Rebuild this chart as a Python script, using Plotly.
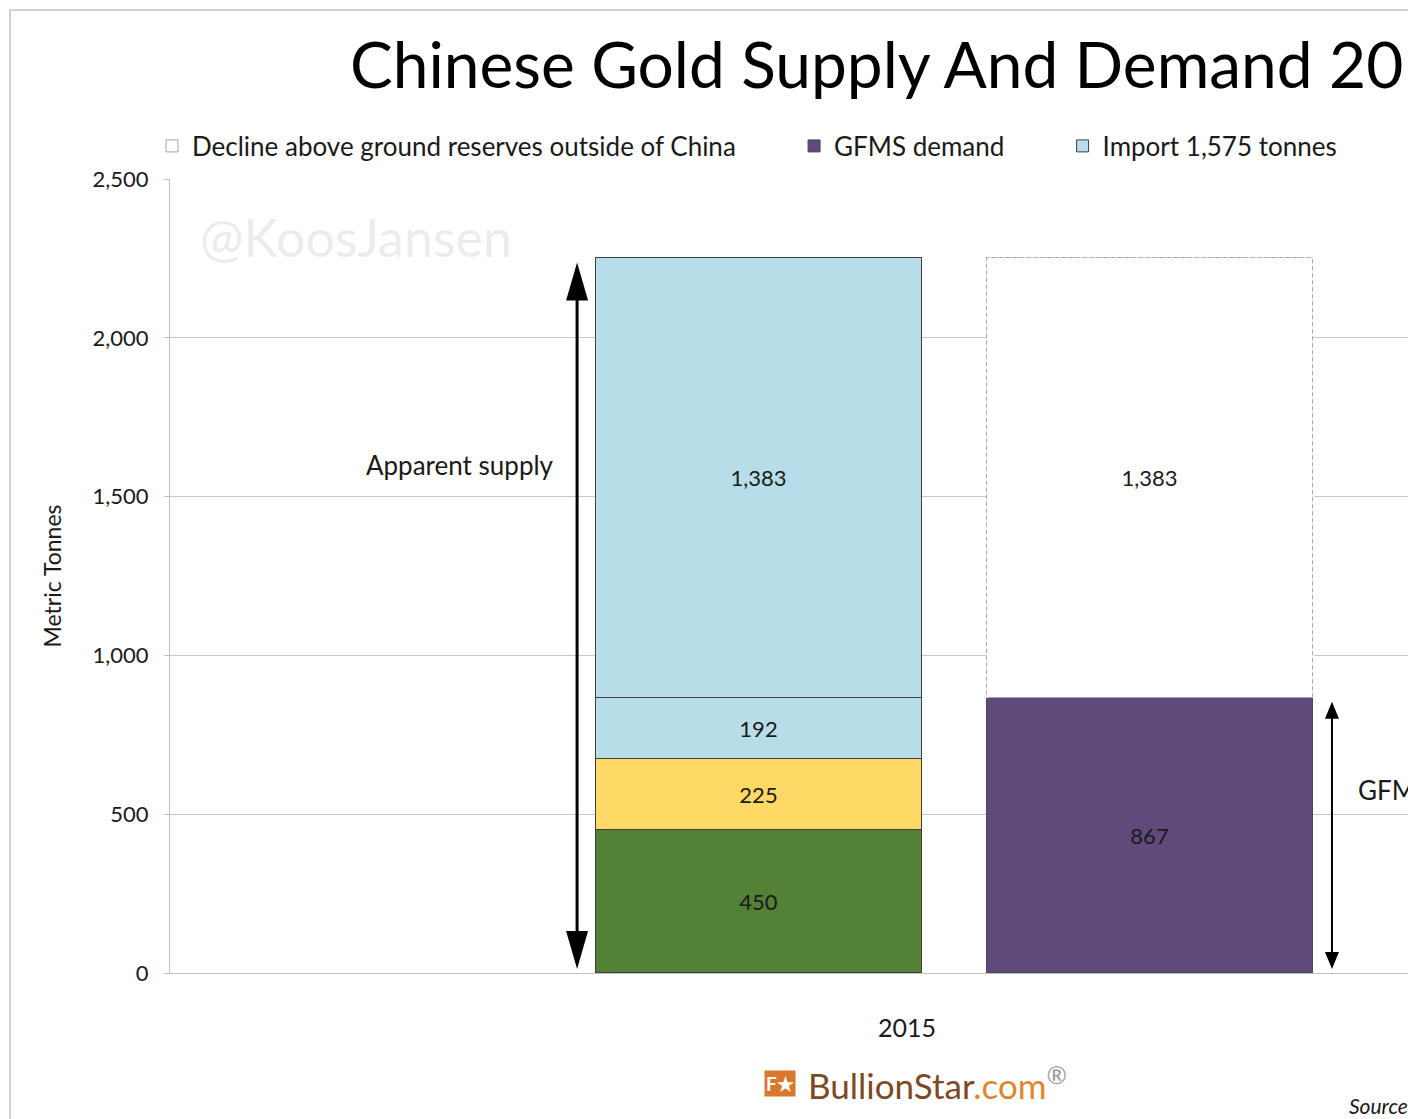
import plotly.graph_objects as go

# ---------------- data ----------------
categories = ["2015"]
mine_production = [450]
scrap = [225]
import_part1 = [192]
import_part2 = [1383]
gfms_demand = [867]
decline_reserves = [1383]
y_ticks = [0, 500, 1000, 1500, 2000, 2500]

# ---------------- layout constants ----------------
W, H = 1408, 1119
ML, MR, MT, MB = 170, 0, 179, 146
PW, PH = W - ML - MR, H - MT - MB
Y_MAX = 2500
X_MIN, X_MAX = 0.0, PW / 326.0
SUPPLY_X, DEMAND_X, CAT_X = 1.807, 3.006, 2.261
BAR_W = 1.0
FONT = "Lato"
UX = (X_MAX - X_MIN) / PW   # data units per px (x)
UY = Y_MAX / PH             # data units per px (y)
PAD = "\u00a0" * 8          # spacing between legend entries

def fmt(v):
    return f"{v:,}"

fig = go.Figure()

label_font = dict(family=FONT, size=22, color="#1a1a1a")
edge = dict(color="#404040", width=1)
supply_segments = [
    ("Mine production 450 tonnes", mine_production, "#538135", False, 4, "mine"),
    ("Scrap 225 tonnes", scrap, "#FFD966", False, 5, "scrap"),
    ("Import 1,575 tonnes", import_part1, "#B7DDE8", True, 3, "import"),
    ("Import 1,575 tonnes", import_part2, "#B7DDE8", False, 3, "import"),
]
for name, vals, col, show, rank, grp in supply_segments:
    fig.add_trace(go.Bar(
        x=[SUPPLY_X], y=vals, width=BAR_W, name=name, legendgroup=grp,
        showlegend=show, legendrank=rank,
        marker=dict(color=col, line=edge),
        text=[fmt(v) for v in vals], textposition="inside", insidetextanchor="middle",
        textangle=0, textfont=label_font, hoverinfo="skip"))

fig.add_trace(go.Bar(
    x=[DEMAND_X], y=gfms_demand, width=BAR_W, name="GFMS demand" + PAD, legendrank=2,
    marker=dict(color="#604A7B", line=dict(color="#4a4a4a", width=1)),
    text=[fmt(v) for v in gfms_demand], textposition="inside", insidetextanchor="middle",
    textangle=0, textfont=label_font, hoverinfo="skip"))

fig.add_trace(go.Bar(
    x=[DEMAND_X], y=decline_reserves, width=BAR_W,
    name="Decline above ground reserves outside of China" + PAD, legendrank=1,
    marker=dict(color="rgba(255,255,255,1)", line=dict(color="#a6a6a6", width=1)),
    text=[fmt(v) for v in decline_reserves], textposition="inside", insidetextanchor="middle",
    textangle=0, textfont=label_font, hoverinfo="skip"))

# dashed outline for the "decline" bar (white dashes over grey border)
dx0, dx1 = DEMAND_X - BAR_W / 2, DEMAND_X + BAR_W / 2
dy0 = gfms_demand[0]
dy1 = gfms_demand[0] + decline_reserves[0]
shapes = [dict(type="path", xref="x", yref="y",
               path=f"M{dx0},{dy0} L{dx0},{dy1} L{dx1},{dy1} L{dx1},{dy0}",
               line=dict(color="white", width=1.6, dash="3px,4px"))]

def double_arrow(x, y0, y1, lw, hl, hw, inset):
    dy, dx, ins = hl * UY, hw * UX, inset * UY
    top, bot = y1 - ins, y0 + ins
    s = [dict(type="line", xref="x", yref="y", x0=x, x1=x, y0=bot + dy * 0.8, y1=top - dy * 0.8,
              line=dict(color="black", width=lw))]
    s.append(dict(type="path", xref="x", yref="y", fillcolor="black", line=dict(width=0),
                  path=f"M{x-dx},{top-dy} L{x},{top} L{x+dx},{top-dy} Z"))
    s.append(dict(type="path", xref="x", yref="y", fillcolor="black", line=dict(width=0),
                  path=f"M{x-dx},{bot+dy} L{x},{bot} L{x+dx},{bot+dy} Z"))
    return s

supply_total = mine_production[0] + scrap[0] + import_part1[0] + import_part2[0]
left_arrow_x = SUPPLY_X - BAR_W / 2 - 19 * UX
right_arrow_x = DEMAND_X + BAR_W / 2 + 19 * UX
shapes += double_arrow(left_arrow_x, 0, supply_total, 3, 38, 11, 4)
shapes += double_arrow(right_arrow_x, 0, gfms_demand[0], 2, 17, 7, 4)

# chart border
shapes.append(dict(type="rect", xref="paper", yref="paper",
                   x0=(10 - ML) / PW, x1=1.6, y0=-0.3, y1=(H - MB - 10) / PH,
                   line=dict(color="#c4c4c4", width=1.5), fillcolor="rgba(0,0,0,0)", layer="below"))

annotations = [
    dict(text="Apparent supply", x=left_arrow_x - 21 * UX, y=1600, xref="x", yref="y",
         xanchor="right", yanchor="middle", showarrow=False,
         font=dict(family=FONT, size=26, color="#1a1a1a")),
    dict(text="GFMS demand", x=right_arrow_x + 24 * UX, y=576, xref="x", yref="y",
         xanchor="left", yanchor="middle", showarrow=False,
         font=dict(family=FONT, size=26, color="#1a1a1a")),
    dict(text="@KoosJansen", x=(198 - ML) / PW, y=(H - MB - 237) / PH, xref="paper", yref="paper",
         xanchor="left", yanchor="middle", showarrow=False,
         font=dict(family=FONT, size=52, color="#ececec")),
    dict(text="<b>F\u2605</b>", x=(764 - ML) / PW, y=(H - MB - 1083) / PH, xref="paper", yref="paper",
         xanchor="left", yanchor="middle", showarrow=False, bgcolor="#d9782d", borderpad=1,
         font=dict(family=FONT, size=19, color="white")),
    dict(text="<span style='color:#7b4a24'>BullionStar</span><span style='color:#e0862e'>.com</span>"
              "<sup><span style='color:#999'>®</span></sup>",
         x=(806 - ML) / PW, y=(H - MB - 1083) / PH, xref="paper", yref="paper",
         xanchor="left", yanchor="middle", showarrow=False,
         font=dict(family=FONT, size=35)),
    dict(text="<i>Source: GFMS, China Customs, SGE</i>", x=(1347 - ML) / PW, y=(H - MB - 1105) / PH,
         xref="paper", yref="paper", xanchor="left", yanchor="middle", showarrow=False,
         font=dict(family=FONT, size=21, color="#1a1a1a")),
]

fig.update_layout(
    width=W, height=H, margin=dict(l=ML, r=MR, t=MT, b=MB, autoexpand=False),
    paper_bgcolor="white", plot_bgcolor="white",
    barmode="stack", bargap=0,
    font=dict(family=FONT, color="#1a1a1a"),
    title=dict(text="Chinese Gold Supply And Demand 2015", xref="container", yref="container",
               x=350 / W, xanchor="left", y=1 - 66 / H, yanchor="middle",
               font=dict(family=FONT, size=64, color="black")),
    legend=dict(orientation="h", x=(152 - ML) / PW, xanchor="left",
                y=(H - MB - 146) / PH, yanchor="middle", traceorder="normal",
                font=dict(family=FONT, size=26, color="#1a1a1a"), bgcolor="rgba(0,0,0,0)"),
    xaxis=dict(range=[X_MIN, X_MAX], tickvals=[CAT_X], ticktext=categories, showgrid=False,
               zeroline=False, showline=True, linecolor="#bfbfbf", ticks="",
               ticklabelstandoff=33, tickfont=dict(family=FONT, size=25, color="#1a1a1a")),
    yaxis=dict(range=[0, Y_MAX], tickvals=y_ticks, tickformat=",", showgrid=True,
               gridcolor="#c8c8c8", gridwidth=1, zeroline=False, showline=True,
               linecolor="#bfbfbf", ticks="outside", ticklen=5, tickcolor="#bfbfbf",
               ticklabelstandoff=11, tickfont=dict(family=FONT, size=22, color="#1a1a1a")),
    shapes=shapes, annotations=annotations,
)
fig.update_yaxes(title=dict(text="Metric Tonnes", standoff=24,
                            font=dict(family=FONT, size=23, color="#1a1a1a")))

fig.write_html("out.html")
